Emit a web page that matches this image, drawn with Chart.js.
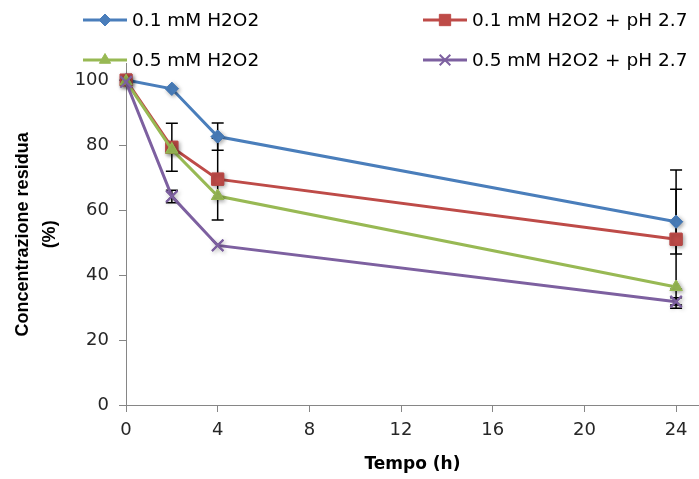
<!DOCTYPE html>
<html>
<head>
    <title>Concentrazione residua</title>
    <script src="https://cdn.jsdelivr.net/npm/chart.js"></script>
    <style>
        body { margin: 0; background: #fff; }
    </style>
</head>
<body>
    <canvas id="residuaChart" width="699" height="479"></canvas>

    <script>
        // tempi di campionamento (h)
        const tempi = [0, 2, 4, 24];

        // concentrazione residua (%) per ogni prova
        const h2o2_01 = [100, 97.3, 82.6, 56.4];
        const h2o2_01_ph = [100, 79.3, 69.5, 51.0];
        const h2o2_05 = [99.6, 78.6, 64.3, 36.3];
        const h2o2_05_ph = [99.4, 64.2, 49.1, 31.8];

        // barre di errore (+ / -)
        const errPiu_01 = [0, 0, 4.2, 15.9];
        const errMeno_01 = [0, 0, 4.2, 9.9];
        const errPiu_01_ph = [0, 7.4, 12.6, 15.4];
        const errMeno_01_ph = [0, 7.4, 12.6, 15.4];
        const errPiu_05 = [0, 0, 0, 0];
        const errMeno_05 = [0, 0, 0, 6.5];
        const errPiu_05_ph = [0, 1.9, 0, 1.2];
        const errMeno_05_ph = [0, 2.0, 0, 1.0];

        const etichette = ['0.1 mM H2O2', '0.1 mM H2O2 + pH 2.7', '0.5 mM H2O2', '0.5 mM H2O2 + pH 2.7'];
        const tickX = [0, 4, 8, 12, 16, 20, 24];
        const tickY = [0, 20, 40, 60, 80, 100];

        const punti = arr => arr.map((v, i) => ({ x: tempi[i], y: v }));

        function serie(label, valori, piu, meno, colore, stile, raggio, ordine) {
            return {
                label: label,
                data: punti(valori),
                errPiu: piu,
                errMeno: meno,
                borderColor: colore,
                backgroundColor: colore,
                borderWidth: 3,
                pointStyle: stile,
                pointRadius: raggio,
                pointHoverRadius: raggio,
                pointBorderWidth: stile === 'crossRot' ? 2 : 1,
                pointBorderColor: colore,
                pointBackgroundColor: colore,
                tension: 0,
                order: ordine
            };
        }

        // barre di errore disegnate sotto linee e marcatori
        const barreErrore = {
            id: 'barreErrore',
            beforeDatasetsDraw(chart) {
                const ctx = chart.ctx;
                const sx = chart.scales.x, sy = chart.scales.y;
                ctx.save();
                ctx.strokeStyle = '#000';
                ctx.lineWidth = 1.5;
                chart.data.datasets.forEach(ds => {
                    ds.data.forEach((p, i) => {
                        const su = ds.errPiu[i], giu = ds.errMeno[i];
                        if (!su && !giu) return;
                        const x = sx.getPixelForValue(p.x);
                        const y1 = sy.getPixelForValue(p.y + su);
                        const y2 = sy.getPixelForValue(p.y - giu);
                        ctx.beginPath();
                        ctx.moveTo(x, y1); ctx.lineTo(x, y2);
                        if (su) { ctx.moveTo(x - 6, y1); ctx.lineTo(x + 6, y1); }
                        if (giu) { ctx.moveTo(x - 6, y2); ctx.lineTo(x + 6, y2); }
                        ctx.stroke();
                    });
                });
                ctx.restore();
            }
        };

        // marcatori ridisegnati con un'ombra leggera
        const ombraMarcatori = {
            id: 'ombraMarcatori',
            afterDatasetDraw(chart, args) {
                const ctx = chart.ctx;
                ctx.save();
                ctx.shadowColor = 'rgba(0, 0, 0, 0.35)';
                ctx.shadowBlur = 4;
                ctx.shadowOffsetX = 1.5;
                ctx.shadowOffsetY = 1.5;
                args.meta.data.forEach(el => el.draw(ctx, chart.chartArea));
                ctx.restore();
            }
        };

        // legenda su due colonne in alto
        const legenda = {
            id: 'legenda',
            afterDraw(chart) {
                const ctx = chart.ctx;
                const posizioni = [
                    { x: 83, y: 20 }, { x: 423, y: 20 },
                    { x: 83, y: 60 }, { x: 423, y: 60 }
                ];
                ctx.save();
                chart.data.datasets.forEach((ds, i) => {
                    const p = posizioni[i];
                    ctx.strokeStyle = ds.borderColor;
                    ctx.fillStyle = ds.backgroundColor;
                    ctx.lineWidth = 3;
                    ctx.beginPath();
                    ctx.moveTo(p.x, p.y); ctx.lineTo(p.x + 44, p.y);
                    ctx.stroke();
                    ctx.lineWidth = ds.pointBorderWidth;
                    Chart.helpers.drawPoint(ctx, {
                        pointStyle: ds.pointStyle,
                        radius: ds.pointRadius - 0.5,
                        rotation: 0,
                        borderWidth: ds.pointBorderWidth
                    }, p.x + 22, p.y);
                    ctx.fillStyle = '#000';
                    ctx.font = '18.5px "DejaVu Sans"';
                    ctx.textBaseline = 'middle';
                    ctx.textAlign = 'left';
                    ctx.fillText(ds.label, p.x + 49, p.y + 1);
                });
                ctx.restore();
            }
        };

        const ctx = document.getElementById('residuaChart').getContext('2d');
        new Chart(ctx, {
            type: 'line',
            data: {
                datasets: [
                    serie(etichette[0], h2o2_01, errPiu_01, errMeno_01, '#4A7EBB', 'rectRot', 6.5, 4),
                    serie(etichette[1], h2o2_01_ph, errPiu_01_ph, errMeno_01_ph, '#BE4B48', 'rect', 8.5, 3),
                    serie(etichette[2], h2o2_05, errPiu_05, errMeno_05, '#98B954', 'triangle', 7, 2),
                    serie(etichette[3], h2o2_05_ph, errPiu_05_ph, errMeno_05_ph, '#7D60A0', 'crossRot', 8, 1)
                ]
            },
            options: {
                responsive: false,
                animation: false,
                layout: { autoPadding: false, padding: { top: 63.75, left: 0, right: 0, bottom: 0 } },
                plugins: {
                    legend: { display: false },
                    tooltip: { enabled: false }
                },
                scales: {
                    x: {
                        type: 'linear',
                        min: 0,
                        max: 25,
                        afterBuildTicks: scale => { scale.ticks = tickX.map(v => ({ value: v })); },
                        afterFit: scale => {
                            scale.height = 74;
                            scale.paddingLeft = 0;
                            scale.paddingRight = 0;
                        },
                        grid: { drawOnChartArea: false, drawTicks: true, tickLength: 7, color: '#868686' },
                        border: { color: '#868686', width: 1 },
                        ticks: { color: '#262626', font: { family: 'DejaVu Sans', size: 18 }, padding: 8, maxRotation: 0 },
                        title: {
                            display: true,
                            text: 'Tempo (h)',
                            color: '#000',
                            font: { family: 'DejaVu Sans', size: 17, weight: 'bold' },
                            padding: { top: 0, bottom: 4 }
                        }
                    },
                    y: {
                        min: 0,
                        max: 105,
                        afterBuildTicks: scale => { scale.ticks = tickY.map(v => ({ value: v })); },
                        afterFit: scale => { scale.width = 126; },
                        grid: { drawOnChartArea: false, drawTicks: true, tickLength: 7, color: '#868686' },
                        border: { color: '#868686', width: 1 },
                        ticks: { color: '#262626', font: { family: 'DejaVu Sans', size: 18 }, padding: 10 },
                        title: {
                            display: true,
                            text: ['Concentrazione residua', '(%)'],
                            color: '#000',
                            font: { family: 'Liberation Sans', size: 18, weight: 'bold', lineHeight: 1.5 },
                            padding: { top: 10, bottom: 0 }
                        }
                    }
                }
            },
            plugins: [barreErrore, ombraMarcatori, legenda]
        });
    </script>
</body>
</html>
